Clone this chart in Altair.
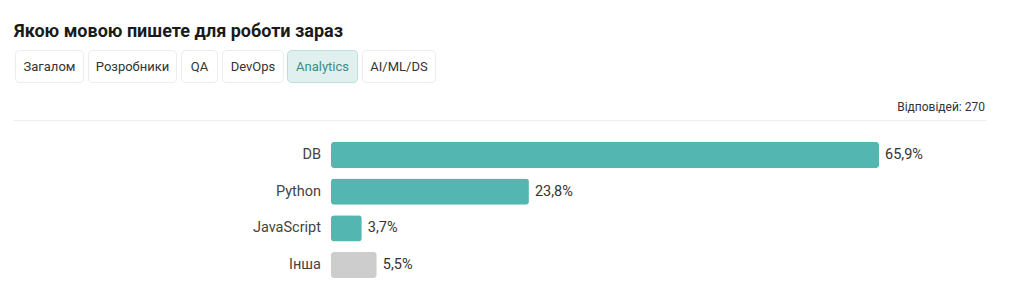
import altair as alt
import pandas as pd

# ---- data ----
categories = ["DB", "Python", "JavaScript", "Інша"]
values = [65.9, 23.8, 3.7, 5.5]
labels = ["65,9%", "23,8%", "3,7%", "5,5%"]
bar_colors = ["#53b6b0", "#53b6b0", "#53b6b0", "#cdcdcd"]
title_text = "Якою мовою пишете для роботи зараз"
tab_labels = ["Загалом", "Розробники", "QA", "DevOps", "Analytics", "AI/ML/DS"]
active_tab = "Analytics"
responses_text = "Відповідей: 270"

# ---- layout (pixels) ----
tab_x = [(15, 84), (88, 177), (181, 218), (222, 284), (287, 358), (362, 436)]
FONT = "Roboto"

df = pd.DataFrame({"category": categories, "value": values,
                   "label": labels, "color": bar_colors})

x = alt.X("value:Q", scale=alt.Scale(domain=[0, max(values)], range=[331, 879]), axis=None)
y = alt.Y("category:N", sort=categories,
          scale=alt.Scale(range=[136.6, 283.4], paddingInner=0.29, paddingOuter=0.145),
          axis=None)

base = alt.Chart(df)
bars = base.mark_bar(cornerRadius=3).encode(
    x=x, y=y, color=alt.Color("color:N", scale=None))
vals = base.mark_text(align="left", baseline="middle", dx=6, font=FONT,
                      fontSize=14.5, color="#333333").encode(x=x, y=y, text="label:N")
cats = base.mark_text(align="right", baseline="middle", font=FONT,
                      fontSize=14.5, color="#444444").encode(
    x=alt.value(321), y=y, text="category:N")

one = alt.Data(values=[{}])
layers = [bars, vals, cats]

layers.append(alt.Chart(one).mark_text(align="left", baseline="alphabetic", font=FONT,
                                       fontSize=18, fontWeight="bold", color="#1a1a1a").encode(
    x=alt.value(14), y=alt.value(37), text=alt.value(title_text)))

for lab, (x0, x1) in zip(tab_labels, tab_x):
    active = lab == active_tab
    layers.append(alt.Chart(one).mark_rect(
        cornerRadius=4, fill="#dff0ee" if active else "#ffffff",
        stroke="#b9e0dc" if active else "#ececec", strokeWidth=1).encode(
        x=alt.value(x0 + 0.5), x2=alt.value(x1 - 0.5), y=alt.value(50.5), y2=alt.value(82.5)))
    layers.append(alt.Chart(one).mark_text(
        align="center", baseline="middle", font=FONT, fontSize=13,
        color="#3d8c84" if active else "#333333").encode(
        x=alt.value((x0 + x1) / 2), y=alt.value(66.5), text=alt.value(lab)))

layers.append(alt.Chart(one).mark_text(align="right", baseline="middle", font=FONT,
                                       fontSize=12, color="#333333").encode(
    x=alt.value(985), y=alt.value(107), text=alt.value(responses_text)))
layers.append(alt.Chart(one).mark_rule(color="#eeeeee", strokeWidth=1).encode(
    x=alt.value(14), x2=alt.value(986), y=alt.value(120.5)))

chart = alt.layer(*layers).properties(
    width=1024, height=306, padding=0,
    autosize=alt.AutoSizeParams(type="none"),
    background="#ffffff",
).configure_view(stroke=None)

chart.save("out.html", embed_options={"renderer": "svg", "actions": False})
